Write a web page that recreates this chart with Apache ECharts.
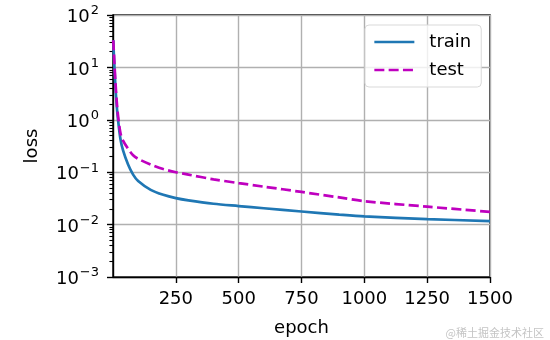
<!DOCTYPE html>
<html>
<head>
<meta charset="utf-8">
<script src="https://cdn.jsdelivr.net/npm/echarts@6/dist/echarts.min.js"></script>
<style>
  html, body { margin: 0; padding: 0; background: #fff; }
  #chart { width: 550px; height: 340px; }
</style>
</head>
<body>
<div id="chart"></div>
<script>
// Training curve samples (epoch, loss)
const epochs = [1, 5, 10, 15, 20, 30, 40, 60, 80, 100, 150, 200, 250, 300, 400, 500, 600, 750, 900, 1000, 1250, 1500];
const trainLoss = [33, 12, 4, 1.8, 1.0, 0.42, 0.26, 0.14, 0.09, 0.068, 0.046, 0.037, 0.032, 0.029, 0.025, 0.0226, 0.0205, 0.0178, 0.0155, 0.0143, 0.0127, 0.0117];
const testLoss = [33, 14, 5, 2.2, 1.2, 0.55, 0.4, 0.28, 0.21, 0.18, 0.14, 0.115, 0.1, 0.09, 0.073, 0.062, 0.053, 0.042, 0.033, 0.028, 0.022, 0.0175];
const xTicks = [250, 500, 750, 1000, 1250, 1500];
const yDecades = [-3, -2, -1, 0, 1, 2];

const FONT = 'DejaVu Sans';
const minorTicks = [];
for (let e = yDecades[0]; e < yDecades[yDecades.length - 1]; e++) {
  for (let k = 2; k <= 9; k++) minorTicks.push(k * Math.pow(10, e));
}
const majorTicks = yDecades.map(e => Math.pow(10, e));

function supLabel(v) {
  const e = Math.round(Math.log10(v));
  const s = e < 0 ? '\u2212' + (-e) : String(e);
  return '{b|10}{s|' + s + '}';
}

const chart = echarts.init(document.getElementById('chart'), null, { renderer: 'canvas' });
chart.setOption({
  animation: false,
  backgroundColor: '#fff',
  grid: {
    left: 113, right: 60, top: 15, bottom: 63,
    containLabel: false, outerBoundsMode: 'none',
    show: true, borderColor: '#000', borderWidth: 1.4, backgroundColor: 'transparent'
  },
  legend: {
    orient: 'vertical',
    left: 365, top: 25,
    padding: [7, 10, 7, 8],
    itemWidth: 40, itemHeight: 14, itemGap: 8,
    itemStyle: { opacity: 0 },
    lineStyle: { width: 2.7 },
    backgroundColor: 'rgba(255,255,255,0.8)',
    borderColor: '#d9d9d9', borderWidth: 1, borderRadius: 4,
    textStyle: { fontFamily: FONT, fontSize: 18, color: '#000', lineHeight: 20, padding: [0, 0, 0, 10] },
    data: ['train', 'test']
  },
  xAxis: {
    type: 'value', min: 0, max: 1500,
    name: 'epoch', nameLocation: 'middle', nameGap: 42,
    nameTextStyle: { fontFamily: FONT, fontSize: 18, color: '#000' },
    axisLine: { show: true, lineStyle: { color: '#000', width: 1.4 } },
    axisTick: { show: true, customValues: xTicks, length: 6, lineStyle: { color: '#000', width: 1.4 } },
    axisLabel: {
      customValues: xTicks, margin: 13, fontFamily: FONT, fontSize: 18, color: '#000',
      formatter: v => String(v)
    },
    splitLine: { show: true, lineStyle: { color: '#b0b0b0', width: 1.4 } }
  },
  yAxis: [{
    type: 'log', logBase: 10, min: 0.001, max: 100,
    name: 'loss', nameLocation: 'middle', nameGap: 72, nameRotate: 90,
    nameTextStyle: { fontFamily: FONT, fontSize: 18, color: '#000' },
    axisLine: { show: true, lineStyle: { color: '#000', width: 1.4 } },
    axisTick: { show: true, customValues: majorTicks, length: 6, lineStyle: { color: '#000', width: 1.4 } },
    axisLabel: {
      customValues: majorTicks, margin: 14, formatter: supLabel,
      rich: {
        b: { fontFamily: FONT, fontSize: 18, color: '#000', padding: [5, 0, 0, 0] },
        s: { fontFamily: FONT, fontSize: 13, color: '#000', padding: [0, 0, 8, 1] }
      }
    },
    splitLine: { show: true, lineStyle: { color: '#b0b0b0', width: 1.4 } }
  }, {
    // minor ticks at 2..9 × 10^n
    type: 'log', logBase: 10, min: 0.001, max: 100, position: 'left',
    axisLine: { show: false },
    axisTick: { show: true, customValues: minorTicks, length: 3.6, lineStyle: { color: '#000', width: 1.1 } },
    axisLabel: { show: false },
    splitLine: { show: false }
  }],
  series: [{
    name: 'train', type: 'line', symbol: 'none', smooth: 0.3,
    data: epochs.map((x, i) => [x, trainLoss[i]]),
    lineStyle: { color: '#1f77b4', width: 2.7 },
    itemStyle: { color: '#1f77b4' }
  }, {
    name: 'test', type: 'line', symbol: 'none', smooth: 0.3,
    data: epochs.map((x, i) => [x, testLoss[i]]),
    lineStyle: { color: '#bf00bf', width: 2.7, type: [10, 4.3] },
    itemStyle: { color: '#bf00bf' }
  }],
  graphic: [{
    type: 'text', right: 6, bottom: 2,
    style: { text: '@稀土掘金技术社区', fontFamily: 'Noto Sans CJK SC', fontSize: 11, fill: '#c4c4c4' }
  }]
});
</script>
</body>
</html>
